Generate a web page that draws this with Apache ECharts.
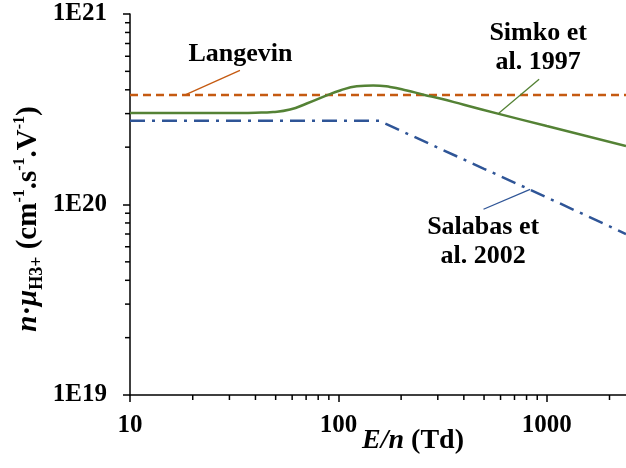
<!DOCTYPE html>
<html>
<head>
<meta charset="utf-8">
<script src="https://cdn.jsdelivr.net/npm/echarts@6/dist/echarts.min.js"></script>
<style>
html,body{margin:0;padding:0;background:#fff;}
#chart{width:626px;height:468px;}
</style>
</head>
<body>
<div id="chart"></div>
<script>
// ---- data ----
const langevinX = [10, 2400];
const langevinY = [3.76e20, 3.76e20];

const simkoX = [10, 15, 22, 32, 40, 48.6, 58.6, 70.5, 87.9, 101.9, 122.5, 147, 177, 213, 256, 308, 400, 582, 1000, 2400];
const simkoY = [3.02e20, 3.02e20, 3.02e20, 3.025e20, 3.035e20, 3.06e20, 3.15e20, 3.39e20, 3.74e20, 3.97e20, 4.17e20, 4.22e20, 4.14e20, 3.97e20, 3.77e20, 3.60e20, 3.34e20, 3.0e20, 2.58e20, 2.03e20];

const salabasX = [10, 157, 500, 1000, 2400];
const salabasY = [2.75e20, 2.75e20, 1.54e20, 1.09e20, 7.0e19];

const xTickLabels = ['10', '100', '1000'];
const yTickLabels = ['1E19', '1E20', '1E21'];

const xMinorTicks = [20,30,40,50,60,70,80,90,200,300,400,500,600,700,800,900,2000];
const yMinorTicks = [2e19,3e19,4e19,5e19,6e19,7e19,8e19,9e19,2e20,3e20,4e20,5e20,6e20,7e20,8e20,9e20];

// annotation labels and leader lines (in data coordinates)
const annLangevin = {text: 'Langevin', at: [33.9, 6.14e20], from: [18.4, 3.76e20], to: [33.7, 5.06e20]};
const annSimko = {text: 'Simko et\nal. 1997', at: [909, 6.64e20], from: [586, 3.0e20], to: [919, 4.54e20]};
const annSalabas = {text: 'Salabas et\nal. 2002', at: [495, 6.34e19], from: [832, 1.20e20], to: [497, 9.44e19]};

const zip = (xs, ys) => xs.map((x, i) => [x, ys[i]]);

const FONT = 'Liberation Serif, Times New Roman, serif';
const ORANGE = '#C55A11', GREEN = '#548235', BLUE = '#2F5597';

function leader(ann, color) {
  return {
    silent: true, symbol: ['none', 'none'],
    lineStyle: {color: color, width: 1.3, type: 'solid'},
    label: {show: false},
    data: [[{coord: ann.from}, {coord: ann.to}]]
  };
}
function annLabel(ann) {
  return {
    silent: true, symbol: 'circle', symbolSize: 0,
    label: {show: true, position: 'inside', formatter: ann.text, color: '#000',
      fontFamily: FONT, fontWeight: 'bold', fontSize: 26, lineHeight: 29},
    data: [{coord: ann.at}]
  };
}

const chart = echarts.init(document.getElementById('chart'), null, {renderer: 'canvas'});
const option = {
  animation: false,
  backgroundColor: '#fff',
  grid: {left: 130, right: 0, top: 14, bottom: 73, containLabel: false},
  xAxis: {
    type: 'log', logBase: 10, min: 10, max: 2400,
    axisLine: {lineStyle: {color: '#000', width: 1.5}},
    axisTick: {show: true, inside: false, length: 7, lineStyle: {color: '#000', width: 1.5}},
    axisLabel: {
      margin: 18, color: '#000', fontFamily: FONT, fontWeight: 'bold', fontSize: 25,
      showMaxLabel: false,
      formatter: v => { const e = Math.round(Math.log10(v)); return (Math.abs(Math.log10(v) - e) < 1e-6 && e >= 1 && e <= 3) ? xTickLabels[e - 1] : ''; }
    },
    splitLine: {show: false}
  },
  yAxis: {
    type: 'log', logBase: 10, min: 1e19, max: 1e21,
    axisLine: {show: true, lineStyle: {color: '#000', width: 1.5}},
    axisTick: {show: true, inside: false, length: 7, lineStyle: {color: '#000', width: 1.5}},
    axisLabel: {
      margin: 23, color: '#000', fontFamily: FONT, fontWeight: 'bold', fontSize: 25,
      formatter: v => { const e = Math.round(Math.log10(v)); return yTickLabels[e - 19] || ''; }
    },
    splitLine: {show: false}
  },
  graphic: [
    {
      type: 'text', x: 413, y: 441,
      style: {
        text: '{i|E/n}{r| (Td)}', align: 'center', verticalAlign: 'middle',
        rich: {
          i: {fontFamily: FONT, fontWeight: 'bold', fontStyle: 'italic', fontSize: 28, fill: '#000'},
          r: {fontFamily: FONT, fontWeight: 'bold', fontSize: 28, fill: '#000'}
        }
      }
    },
    {
      type: 'text', x: 29, y: 219, rotation: Math.PI / 2,
      style: {
        text: '{i|n}{m|·}{i|μ}{sub|H3+}{m| (cm}{sup|-1}{m|.s}{sup|-1}{m|.V}{sup|-1}{m|)}',
        align: 'center', verticalAlign: 'middle',
        rich: {
          i: {fontFamily: FONT, fontWeight: 'bold', fontStyle: 'italic', fontSize: 29, lineHeight: 35, fill: '#000'},
          m: {fontFamily: FONT, fontWeight: 'bold', fontSize: 29, lineHeight: 35, fill: '#000'},
          sub: {fontFamily: FONT, fontWeight: 'bold', fontSize: 18, lineHeight: 19, verticalAlign: 'bottom', fill: '#000'},
          sup: {fontFamily: FONT, fontWeight: 'bold', fontSize: 16, lineHeight: 16, verticalAlign: 'top', fill: '#000'}
        }
      }
    }
  ],
  series: [
    {
      name: 'Langevin', type: 'line', data: zip(langevinX, langevinY), showSymbol: false, symbol: 'none',
      lineStyle: {color: ORANGE, width: 2.5, type: [8, 5]},
      markLine: leader(annLangevin, ORANGE),
      markPoint: annLabel(annLangevin)
    },
    {
      name: 'Simko et al. 1997', type: 'line', data: zip(simkoX, simkoY), showSymbol: false, symbol: 'none',
      smooth: 0.5,
      lineStyle: {color: GREEN, width: 2.5},
      markLine: leader(annSimko, GREEN),
      markPoint: annLabel(annSimko)
    },
    {
      name: 'Salabas et al. 2002', type: 'line', data: zip(salabasX, salabasY), showSymbol: false, symbol: 'none',
      lineStyle: {color: BLUE, width: 2.5, type: [15, 7, 3, 7]},
      markLine: leader(annSalabas, BLUE),
      markPoint: annLabel(annSalabas)
    },
    {
      name: 'xMinor', type: 'custom', silent: true, clip: false,
      data: xMinorTicks.map(v => [v, 1e19]),
      renderItem: (params, api) => {
        const p = api.coord([api.value(0), api.value(1)]);
        return {type: 'line', shape: {x1: p[0], y1: p[1], x2: p[0], y2: p[1] + 5}, style: {stroke: '#000', lineWidth: 1.5}};
      }
    },
    {
      name: 'yMinor', type: 'custom', silent: true, clip: false,
      data: yMinorTicks.map(v => [10, v]),
      renderItem: (params, api) => {
        const p = api.coord([api.value(0), api.value(1)]);
        return {type: 'line', shape: {x1: p[0], y1: p[1], x2: p[0] - 5, y2: p[1]}, style: {stroke: '#000', lineWidth: 1.5}};
      }
    }
  ]
};
chart.setOption(option);
</script>
</body>
</html>
